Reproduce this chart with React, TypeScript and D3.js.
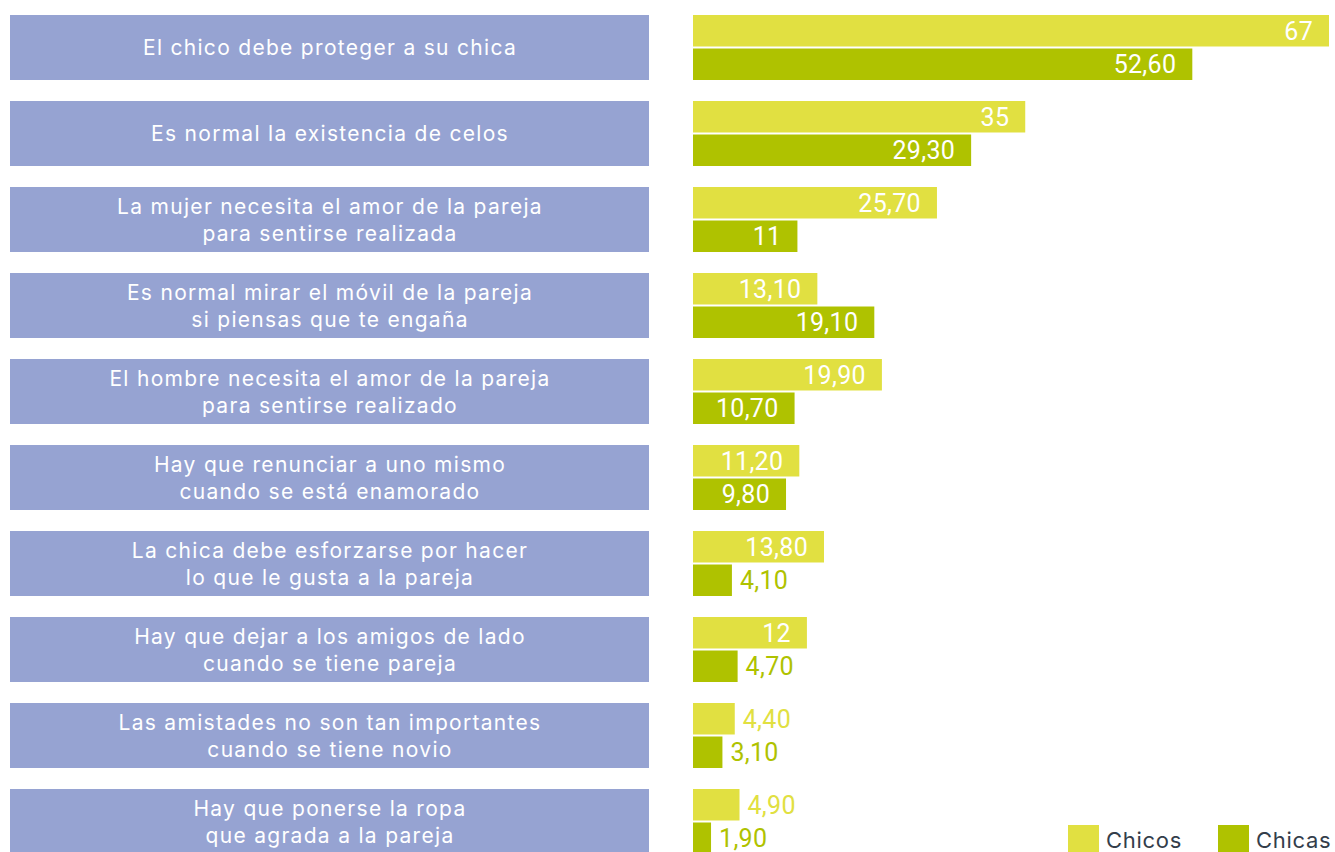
import React from "react";
import * as d3 from "d3";

const categories: string[][] = [
  ["El chico debe proteger a su chica"],
  ["Es normal la existencia de celos"],
  ["La mujer necesita el amor de la pareja", "para sentirse realizada"],
  ["Es normal mirar el móvil de la pareja", "si piensas que te engaña"],
  ["El hombre necesita el amor de la pareja", "para sentirse realizado"],
  ["Hay que renunciar a uno mismo", "cuando se está enamorado"],
  ["La chica debe esforzarse por hacer", "lo que le gusta a la pareja"],
  ["Hay que dejar a los amigos de lado", "cuando se tiene pareja"],
  ["Las amistades no son tan importantes", "cuando se tiene novio"],
  ["Hay que ponerse la ropa", "que agrada a la pareja"],
];
const chicos: number[] = [67, 35, 25.7, 13.1, 19.9, 11.2, 13.8, 12, 4.4, 4.9];
const chicas: number[] = [52.6, 29.3, 11, 19.1, 10.7, 9.8, 4.1, 4.7, 3.1, 1.9];
const seriesNames = ["Chicos", "Chicas"];

const W = 1335;
const H = 852;
const YELLOW = "#e1e041";
const GREEN = "#afc200";
const BOX = "#96a3d2";
const FONT = "Inter, Roboto, sans-serif";
const VFONT = "Roboto, sans-serif";

export default function App() {
  const rowPitch = 86;
  const boxH = 65;
  const n = categories.length;
  const y = d3
    .scaleBand<number>()
    .domain(d3.range(n))
    .range([15, 15 + rowPitch * n - (rowPitch - boxH)])
    .paddingInner((rowPitch - boxH) / rowPitch)
    .paddingOuter(0)
    .align(0);
  const x = d3.scaleLinear().domain([0, 67]).range([693, 1329]);
  const sub = d3.scaleBand<number>().domain([0, 1]).range([0, y.bandwidth()]).paddingInner(0.06);
  const fmt = (v: number) => (Number.isInteger(v) ? String(v) : v.toFixed(2).replace(".", ","));
  const colors = [YELLOW, GREEN];

  return (
    <svg
      width={W}
      height={H}
      style={{ position: "absolute", left: 0, top: 0, display: "block" }}
      fontFamily={FONT}
    >
      <rect width={W} height={H} fill="#fff" />
      {categories.map((lines, i) => {
        const y0 = y(i)!;
        const bh = y.bandwidth();
        const lh = 27;
        const cy = y0 + bh / 2;
        return (
          <g key={i}>
            <rect x={10} y={y0} width={639} height={bh} fill={BOX} />
            {lines.map((ln, j) => (
              <text
                key={j}
                x={330}
                y={cy + (j - (lines.length - 1) / 2) * lh}
                dy="0.36em"
                textAnchor="middle"
                fill="#fff"
                fontSize={21}
                letterSpacing={1.3}
              >
                {ln}
              </text>
            ))}
            {[chicos[i], chicas[i]].map((v, s) => {
              const by = y0 + sub(s)!;
              const h = sub.bandwidth();
              const xe = x(v);
              const inside = v >= 9;
              return (
                <g key={s}>
                  <rect x={x(0)} y={by} width={xe - x(0)} height={h} fill={colors[s]} />
                  <text
                    x={inside ? xe - 16 : xe + 8}
                    y={by + h / 2}
                    dy="0.36em"
                    textAnchor={inside ? "end" : "start"}
                    fill={inside ? "#fff" : colors[s]}
                    fontSize={25}
                    fontFamily={VFONT}
                    letterSpacing={0.3}
                  >
                    {fmt(v)}
                  </text>
                </g>
              );
            })}
          </g>
        );
      })}
      {seriesNames.map((nm, s) => {
        const lx = 1068 + s * 150;
        return (
          <g key={nm}>
            <rect x={lx} y={825} width={31} height={30} fill={colors[s]} />
            <text x={lx + 38} y={840} dy="0.36em" fill="#333d4a" fontSize={22} letterSpacing={0.7}>
              {nm}
            </text>
          </g>
        );
      })}
    </svg>
  );
}
